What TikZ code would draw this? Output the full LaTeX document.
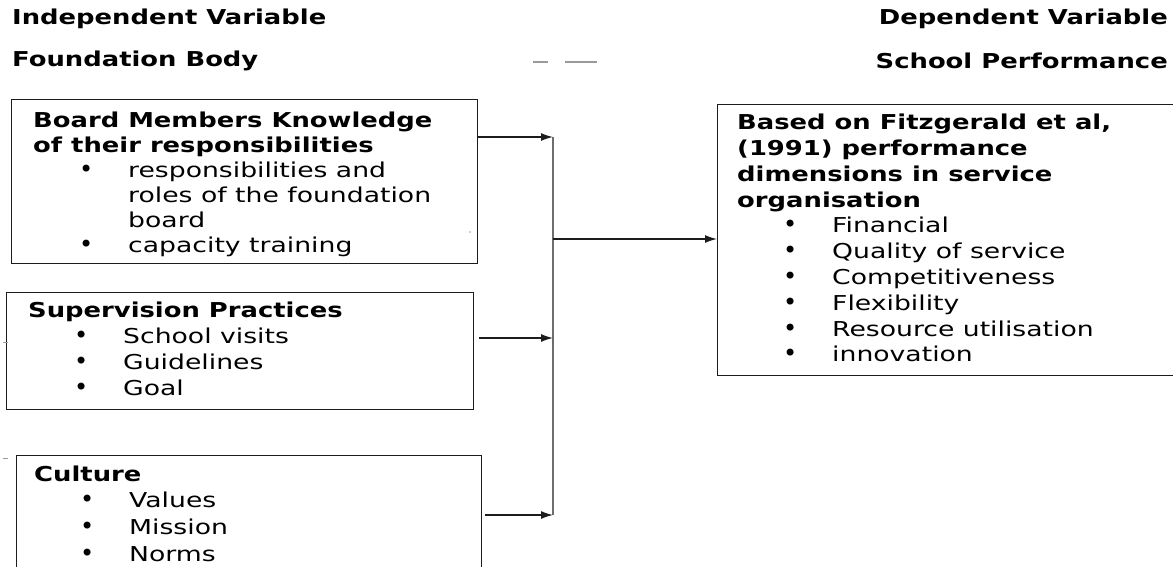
\documentclass[tikz,border=0pt]{standalone}
\usepackage{fontspec}
\setmainfont{DejaVu Sans}[FakeStretch=1.3]
\newfontfamily\titlefont{DejaVu Sans}[FakeStretch=1.26]
\newfontfamily\bulletfont{DejaVu Sans}
\usetikzlibrary{arrows.meta,positioning}
\definecolor{frameblack}{HTML}{1C1C1C}
\definecolor{busgray}{HTML}{6E6E6E}
\definecolor{speckgray}{HTML}{9A9A9A}

% Title rows, bullet rows and wrapped continuation rows inside the boxes.
\newcommand{\titlerow}[1]{{\titlefont\bfseries #1}}
\newcommand{\bulletrow}[1]{\\\makebox[95pt][l]{\hspace*{46pt}{\bulletfont\fontsize{24}{25.8}\selectfont\textbullet}}#1}
\newcommand{\wraprow}[1]{\\\hspace*{95pt}#1}

\begin{document}
\begin{tikzpicture}[
  x=1pt,
  y=-1pt,
  line join=miter,
  every node/.style={font=\fontsize{20.5}{25.8}\selectfont},
  header/.style={inner sep=0pt,font=\fontsize{20.5}{25.8}\selectfont\titlefont\bfseries},
  box/.style={draw=frameblack,line width=1.4pt,anchor=north west,inner sep=0pt},
  boxtext/.style={inner sep=0pt,align=left,anchor=north west},
  feed/.style={draw=frameblack,line width=1.3pt,-{Latex[length=12pt,width=8pt]}},
  bus/.style={draw=busgray,line width=2pt},
  speck/.style={draw=speckgray,line width=1.4pt}
]
  \useasboundingbox (0,0) rectangle (1173,567);
  \clip (0,0) rectangle (1173,567);

  % Variable headings.
  \node[header,anchor=west] (indep) at (12,19) {Independent Variable};
  \node[header,anchor=west] (found) at (12,61) {Foundation Body};
  \node[header,anchor=east] (dep) at (1168,19) {Dependent Variable};
  \node[header,anchor=east] (school) at (1168,61) {School Performance};
  \draw[speck] (533,62) -- (548,62);
  \draw[speck] (565,62) -- (597,62);

  % Independent variable boxes.
  \node[box,minimum width=466pt,minimum height=164pt] (board) at (11,99) {};
  \node[boxtext,font=\fontsize{20.5}{25}\selectfont,
        below right=13pt and 22pt of board.north west] (boardtext) {%
    \titlerow{Board Members Knowledge}\\
    \titlerow{of their responsibilities}
    \bulletrow{responsibilities and}
    \wraprow{roles of the foundation}
    \wraprow{board}
    \bulletrow{capacity training}};

  \node[box,minimum width=467pt,minimum height=117pt] (superv) at (6,292) {};
  \node[boxtext,below right=10pt and 22pt of superv.north west] (supervtext) {%
    \titlerow{Supervision Practices}
    \bulletrow{School visits}
    \bulletrow{Guidelines}
    \bulletrow{Goal}};

  \node[box,minimum width=465pt,minimum height=140pt] (culture) at (16,455) {};
  \node[boxtext,font=\fontsize{20.5}{26.6}\selectfont,
        below right=10.5pt and 18pt of culture.north west] (culturetext) {%
    \titlerow{Culture}
    \bulletrow{Values}
    \bulletrow{Mission}
    \bulletrow{Norms}};

  % Dependent variable box, running past the right edge.
  \node[box,minimum width=480pt,minimum height=271pt] (perf) at (717,104) {};
  \node[boxtext,below right=10pt and 20pt of perf.north west] (perftext) {%
    \titlerow{Based on Fitzgerald et al,}\\
    \titlerow{(1991) performance}\\
    \titlerow{dimensions in service}\\
    \titlerow{organisation}
    \bulletrow{Financial}
    \bulletrow{Quality of service}
    \bulletrow{Competitiveness}
    \bulletrow{Flexibility}
    \bulletrow{Resource utilisation}
    \bulletrow{innovation}};

  % Collecting line between the two sides.
  \coordinate (jboard) at (553,137);
  \coordinate (jsuperv) at (553,338);
  \coordinate (jculture) at (553,515);
  \coordinate (jperf) at (553,239);
  \draw[bus] (jboard) -- (jculture);

  \draw[feed] (board.east |- jboard) -- (jboard);
  \draw[feed,shorten <=5pt] (superv.east |- jsuperv) -- (jsuperv);
  \draw[feed,shorten <=3pt] (culture.east |- jculture) -- (jculture);
  \draw[feed] (jperf) -- (perf.west |- jperf);

  % Scanning specks left in the source.
  \fill[speckgray] (470,232) circle[radius=0.8pt];
  \draw[speck,line width=1pt] (3,342) -- (8,342);
  \draw[speck,line width=1pt] (3,458) -- (8,458);
\end{tikzpicture}
\end{document}
